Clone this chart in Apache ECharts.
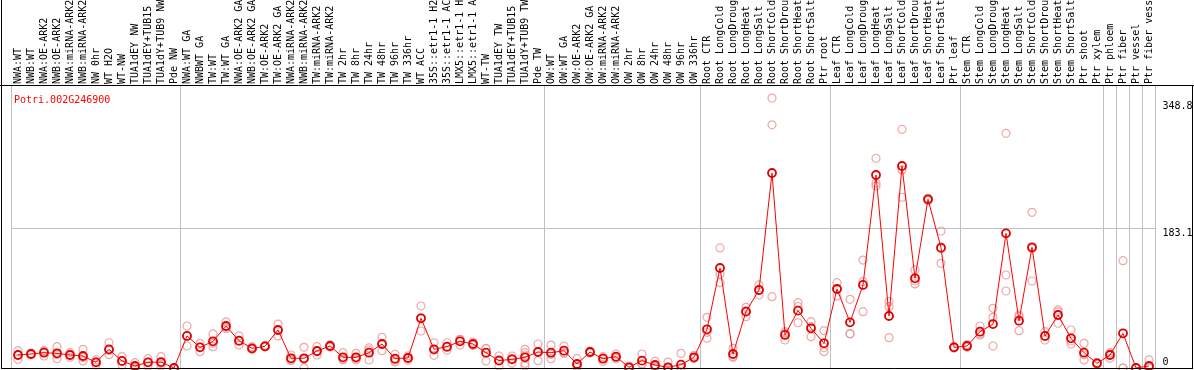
<!DOCTYPE html>
<html>
<head>
<meta charset="utf-8">
<script src="https://cdn.jsdelivr.net/npm/echarts@6/dist/echarts.min.js"></script>
<style>
html,body{margin:0;padding:0;background:#fff;}
#chart{width:1194px;height:370px;}
</style>
</head>
<body>
<div id="chart"></div>
<script>
const geneId = 'Potri.002G246900';

const categories = [
  'NWA:WT','NWB:WT','NWA:OE-ARK2','NWB:OE-ARK2','NWA:miRNA-ARK2','NWB:miRNA-ARK2','NW 0hr','WT H2O','WT-NW','TUA1dEY NW','TUA1dEY+TUB15 NW','TUA1dY+TUB9 NW','Pde NW',
  'NWA:WT GA','NWBWT GA','TW:WT','TW:WT GA','NWA:OE-ARK2 GA','NWB:OE-ARK2 GA','TW:OE-ARK2','TW:OE-ARK2 GA','NWA:miRNA-ARK2 GA','NWB:miRNA-ARK2 GA','TW:miRNA-ARK2','TW:miRNA-ARK2 GA',
  'TW 2hr','TW 8hr','TW 24hr','TW 48hr','TW 96hr','TW 336hr','WT ACC','35S::etr1-1 H2O','35S::etr1-1 ACC','LMX5::etr1-1 H2O','LMX5::etr1-1 ACC','WT-TW','TUA1dEY TW','TUA1dEY+TUB15 TW','TUA1dY+TUB9 TW','Pde TW',
  'OW:WT','OW:WT GA','OW:OE-ARK2','OW:OE-ARK2 GA','OW:miRNA-ARK2','OW:miRNA-ARK2 GA','OW 2hr','OW 8hr','OW 24hr','OW 48hr','OW 96hr','OW 336hr',
  'Root CTR','Root LongCold','Root LongDrought','Root LongHeat','Root LongSalt','Root ShortCold','Root ShortDrought','Root ShortHeat','Root ShortSalt','Ptr root',
  'Leaf CTR','Leaf LongCold','Leaf LongDrought','Leaf LongHeat','Leaf LongSalt','Leaf ShortCold','Leaf ShortDrought','Leaf ShortHeat','Leaf ShortSalt','Ptr leaf',
  'Stem CTR','Stem LongCold','Stem LongDrought','Stem LongHeat','Stem LongSalt','Stem ShortCold','Stem ShortDrought','Stem ShortHeat','Stem ShortSalt','Ptr shoot',
  'Ptr xylem','Ptr phloem','Ptr fiber','Ptr vessel','Ptr fiber vessel'
];

// index of first category of each group (vertical separators)
const groupStarts = [0, 13, 41, 53, 63, 73, 84, 85, 86, 87];

const means = [
  17.0, 18.3, 20.0, 19.2, 17.0, 15.7, 7.4, 24.4, 9.2, 2.6, 7.4, 7.8, 0.0,
  41.9, 27.0, 34.9, 54.9, 35.7, 25.7, 28.3, 49.7, 12.7, 12.7, 22.2, 28.8,
  14.0, 14.0, 20.0, 31.4, 12.2, 13.1, 65.0, 24.4, 27.9, 34.9, 31.4, 20.0, 9.6, 11.4, 14.0, 20.9,
  20.0, 22.6, 5.2, 20.9, 12.2, 14.8, 0.9, 9.6, 3.9, 0.9, 4.4, 14.0,
  50.6, 130.8, 18.3, 73.7, 102.0, 255.0, 43.2, 75.0, 51.9, 32.3,
  103.3, 59.7, 108.6, 252.4, 68.0, 264.2, 117.3, 220.6, 157.4, 27.0,
  28.8, 47.5, 57.5, 176.1, 61.9, 157.8, 41.9, 69.3, 38.8, 20.0,
  6.1, 17.0, 45.4, 0.0, 2.6
];

const replicates = [
  [22.6, 11.4, 17], [17, 19.5, 18.5], [22.6, 15.7, 21.5], [27.9, 12.2, 17.5], [20, 14, 17], [24.4, 9.2, 13.5],
  [10.5, 3.9, 7.8], [33, 17.4, 23], [14.8, 3.9, 9], [7, 0.9, 0], [12.2, 2.6, 7.4], [14.8, 2.6, 6], [0, 0, 0],
  [54.9, 28.8, 42], [32.3, 21.3, 27.4], [44.5, 27.9, 32.3], [60.2, 53.2, 51.3], [41.9, 30, 35.2], [27.9, 24.4, 24.8],
  [29.5, 27.5, 28], [57.5, 41.9, 49.7], [17, 9.6, 11.5], [27, 0, 11], [27.9, 17, 21.7], [30.5, 27.5, 28.4],
  [20, 10.5, 11.5], [19.2, 10.5, 12.3], [26.2, 10.5, 23.3], [40.1, 22.6, 31.5], [18, 8, 10.6], [16, 10, 13.3],
  [81.1, 48.4, 65.5], [33, 16.6, 23.6], [33, 23.5, 27.2], [37.5, 30, 37.2], [34, 29.7, 30.5], [25.2, 9.2, 25.6],
  [15.7, 2.6, 10.5], [15.7, 6.1, 12.4], [24.4, 20, 6.1, 2.6, 17], [31.4, 9.6, 21.7],
  [30, 12.2, 17.8], [28.8, 19.2, 19.8], [12.2, 0.9, 2.5], [22, 19.5, 21.2], [14.8, 8.7, 13.1], [18.3, 12.2, 13.9],
  [2.6, 0, 0], [18.3, 5.2, 5.3], [8.7, 0.9, 2.1], [7.8, 0, 0], [19.2, 0.9, 0], [16.6, 12.5, 13],
  [66.3, 38.8, 46.7], [157, 111.6, 122.5], [25.7, 14, 15.2], [79.4, 67.1, 74.6], [108.6, 95.5, 102],
  [353, 318, 93.3], [47.5, 36.6, 45.5], [85.4, 59.2, 80.4], [60.6, 41, 54], [48.8, 21.3, 26.8],
  [111.6, 94.2, 104], [89.8, 44.5, 45], [141.2, 112.9, 73.7], [274.3, 241.6, 238], [86.7, 80.2, 39.6],
  [312.2, 259, 223.3], [128.2, 109.9, 113.8], [222, 219, 220.8], [179.2, 136.9, 156], [28, 26, 27],
  [27, 30.5, 28.8], [54.9, 43.2, 44.5], [78, 66.3, 28.8], [306.9, 121.6, 100.7], [69.3, 48.8, 67.5],
  [203.6, 113.8, 156], [47.5, 36.6, 41.6], [75.9, 58.5, 73.5], [49.7, 31.4, 35.3], [32.3, 10.5, 17.2],
  [7, 5, 6.3], [20, 12.7, 18.3], [140.3, 0, 0], [0, 0, 0], [10.5, 0, 0]
];

const yTickValues = [0, 183.1, 348.8];
const yMax = 368.8;

const repPoints = [];
replicates.forEach((reps, i) => reps.forEach(v => repPoints.push([i, v])));

const mono = 'DejaVu Sans Mono';
const sepInterval = (index) => groupStarts.indexOf(index) >= 0;

const chart = echarts.init(document.getElementById('chart'), null, {renderer: 'canvas'});
chart.setOption({
  animation: false,
  backgroundColor: '#ffffff',
  title: {
    text: geneId,
    left: 9,
    top: 90,
    textStyle: {fontFamily: mono, fontSize: 10, fontWeight: 'normal', color: '#ff0000'}
  },
  grid: {
    left: 11.5, right: 38.5, top: 86, bottom: 2,
    containLabel: false, outerBoundsMode: 'none'
  },
  xAxis: {
    type: 'category',
    position: 'top',
    data: categories,
    boundaryGap: true,
    axisLine: {show: false},
    axisTick: {show: true, interval: sepInterval, length: 86, lineStyle: {color: '#c0c0c0', width: 1}},
    splitLine: {show: true, interval: sepInterval, lineStyle: {color: '#c0c0c0', width: 1}},
    axisLabel: {
      interval: 0, rotate: 90, margin: 2,
      fontFamily: mono, fontSize: 10, color: '#000'
    }
  },
  yAxis: {
    type: 'value',
    position: 'right',
    min: 0, max: yMax,
    axisLine: {show: false},
    axisTick: {show: false, customValues: yTickValues},
    splitLine: {show: true, lineStyle: {color: ['rgba(0,0,0,0)', '#c0c0c0', 'rgba(0,0,0,0)'], width: 1}},
    axisLabel: {
      customValues: yTickValues,
      margin: 7,
      fontFamily: mono, fontSize: 10, color: '#000',
      formatter: (v) => v === 0 ? '{b|0}' : '{t|' + v + '}',
      rich: {
        t: {fontFamily: mono, fontSize: 10, color: '#000', padding: [11, 0, 0, 0]},
        b: {fontFamily: mono, fontSize: 10, color: '#000', padding: [0, 0, 12, 0]}
      }
    }
  },
  graphic: [
    {type: 'line', shape: {x1: 1.5, y1: 0, x2: 1.5, y2: 369}, style: {stroke: '#000', lineWidth: 1}, z: 100},
    {type: 'line', shape: {x1: 0, y1: 85.5, x2: 1194, y2: 85.5}, style: {stroke: '#000', lineWidth: 1}, z: 100},
    {type: 'line', shape: {x1: 1192.5, y1: 85.5, x2: 1192.5, y2: 369}, style: {stroke: '#000', lineWidth: 1}, z: 100},
    {type: 'line', shape: {x1: 1.5, y1: 368.5, x2: 1192.5, y2: 368.5}, style: {stroke: '#000', lineWidth: 1}, z: 100}
  ],
  series: [
    {
      type: 'scatter',
      data: repPoints,
      symbol: 'circle',
      symbolSize: 8,
      itemStyle: {color: 'rgba(0,0,0,0)', borderColor: '#e89494', borderWidth: 1.2},
      emphasis: {disabled: true},
      z: 2
    },
    {
      type: 'line',
      data: means,
      symbol: 'circle',
      symbolSize: 8,
      showAllSymbol: true,
      lineStyle: {color: '#ff0000', width: 1},
      itemStyle: {color: 'rgba(0,0,0,0)', borderColor: '#e00000', borderWidth: 1.8},
      emphasis: {disabled: true},
      z: 3
    }
  ]
});
</script>
</body>
</html>
